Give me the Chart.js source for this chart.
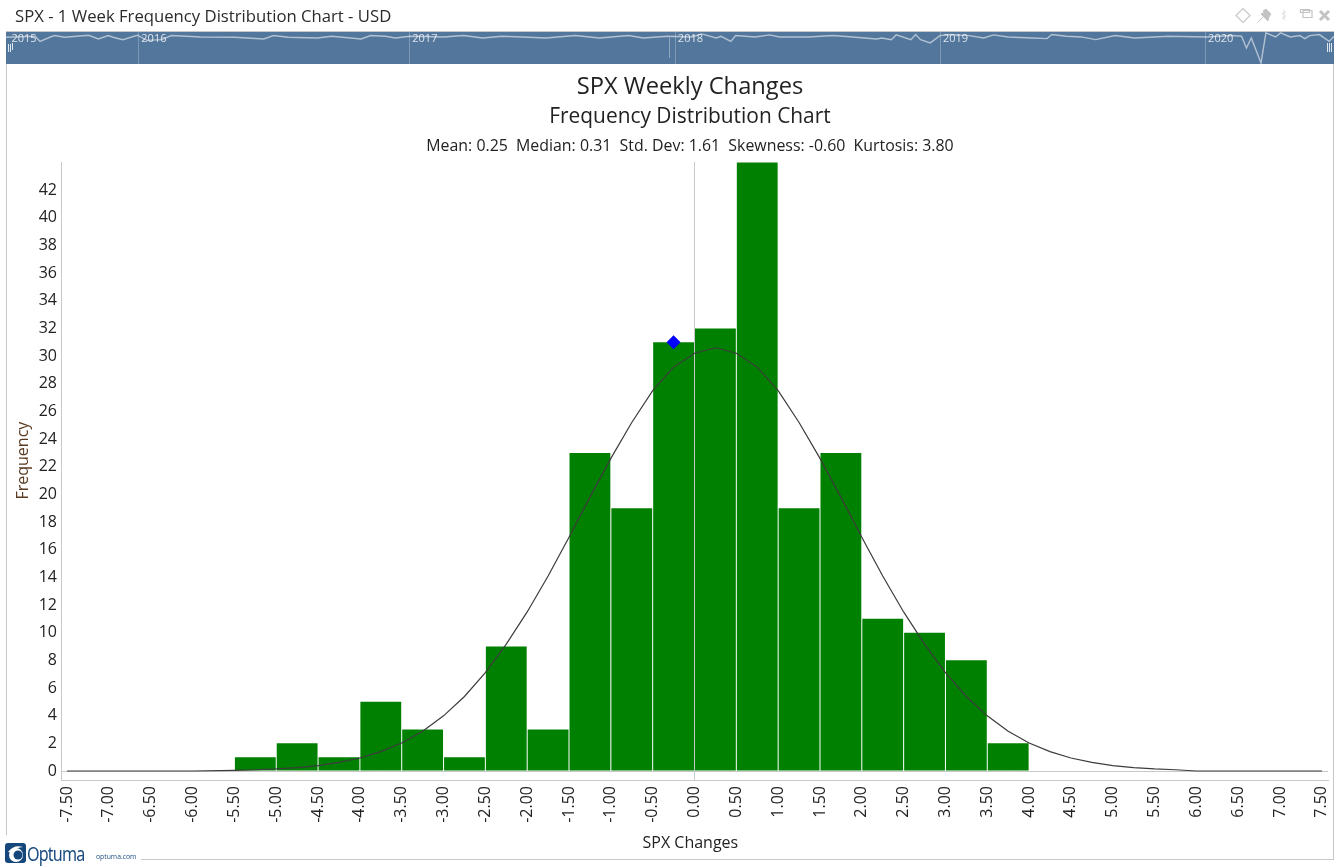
<!DOCTYPE html>
<html><head><meta charset="utf-8">
<script src="https://cdn.jsdelivr.net/npm/chart.js@4/dist/chart.umd.min.js"></script>
<style>
html,body{margin:0;padding:0;background:#fff;width:1340px;height:867px;overflow:hidden;font-family:"Open Sans",sans-serif;color:#222}
.abs{position:absolute;white-space:nowrap}
.c{left:290px;width:800px;text-align:center}
canvas{position:absolute}
</style></head><body>
<canvas id="main" width="1340" height="867" style="left:0;top:0;width:1340px;height:867px"></canvas>
<div class="abs" style="left:15px;top:4px;font-size:16.7px;line-height:24px;color:#2b2b2b">SPX - 1 Week Frequency Distribution Chart - USD</div>
<div class="abs" style="left:6px;top:31px;width:1328px;height:1px;background:#c8c8c8"></div>
<canvas id="mini" width="1328" height="32" style="left:6px;top:32px;width:1328px;height:32px"></canvas>
<div class="abs" style="left:8px;top:44px;width:1px;height:8px;background:#dfe7ef"></div>
<div class="abs" style="left:10px;top:44px;width:1px;height:8px;background:#dfe7ef"></div>
<div class="abs" style="left:12px;top:43px;width:1px;height:7px;background:#dfe7ef"></div>
<div class="abs" style="left:1327px;top:43px;width:1px;height:9px;background:#dfe7ef"></div>
<div class="abs" style="left:1329px;top:43px;width:1px;height:9px;background:#dfe7ef"></div>
<div class="abs" style="left:1331px;top:43px;width:1px;height:9px;background:#dfe7ef"></div>
<div class="abs" style="left:669px;top:38px;width:1px;height:20px;background:rgba(255,255,255,.35)"></div>
<div class="abs" style="left:6px;top:64px;width:1px;height:771px;background:#c8c8c8"></div>
<div class="abs" style="left:1333px;top:64px;width:1px;height:795px;background:#c8c8c8"></div>
<div class="abs" style="left:141px;top:859px;width:1193px;height:1px;background:#c8c8c8"></div>
<div class="abs c" style="top:68px;font-size:23.7px;line-height:34px;color:#222">SPX Weekly Changes</div>
<div class="abs c" style="top:100px;font-size:20.900px;line-height:30px;color:#222">Frequency Distribution Chart</div>
<div class="abs c" style="top:134px;font-size:15.900px;line-height:22px;color:#222">Mean: 0.25&nbsp; Median: 0.31&nbsp; Std. Dev: 1.61&nbsp; Skewness: -0.60&nbsp; Kurtosis: 3.80</div>
<svg class="abs" style="left:1232px;top:5px" width="104" height="20" viewBox="0 0 104 20">
  <path d="M11 3.500l7 7-7 7-7-7z" fill="none" stroke="#cfcfcf" stroke-width="1.5"/>
  <path d="M26 17l6-6M31 6l6 6 2-3-5-5zM29 9l7 7 1-5-4-4z" fill="#c4c4c4" stroke="#c4c4c4"/>
  <path d="M52 5v10M50 9l4-2M50 13l4-2" stroke="#e6e6e6" stroke-width="1.5" fill="none"/>
  <path d="M68.500 7.500h9v-3h-9zM71 12.500h9v-7h-9z" fill="none" stroke="#c4c4c4" stroke-width="1.2"/>
  <path d="M88 6l9 9M97 6l-9 9" stroke="#c4c4c4" stroke-width="3"/>
</svg>
<svg class="abs" style="left:5px;top:843px" width="21" height="20" viewBox="0 0 21 20">
  <rect width="21" height="20" rx="3" fill="#14477c"/>
  <circle cx="11" cy="12" r="7" fill="#fff"/><circle cx="13" cy="12" r="4.500" fill="#14477c"/>
  <path d="M3 9q6-8 15-5-7 0-10 6z" fill="#fff"/>
</svg>
<div class="abs" style="left:27px;top:840px;font-family:'Noto Sans',sans-serif;font-size:19px;line-height:28px;letter-spacing:-1px;color:#1a4c80;transform:scaleX(.85);transform-origin:left">Optuma</div>
<div class="abs" style="left:96px;top:851px;font-size:6.800px;line-height:12px;color:#1a4c80">optuma.com</div>
<script>
// Histogram (bin centres and frequencies)
const binCenters = [-5.25,-4.75,-4.25,-3.75,-3.25,-2.75,-2.25,-1.75,-1.25,-0.75,-0.25,0.25,0.75,1.25,1.75,2.25,2.75,3.25,3.75];
const binCounts  = [1,2,1,5,3,1,9,3,23,19,31,32,44,19,23,11,10,8,2];
// Fitted curve
const curveX = [-7.5,-6,-5.5,-5.25,-5,-4.75,-4.5,-4.25,-4,-3.75,-3.5,-3.25,-3,-2.75,-2.5,-2.25,-2,-1.75,-1.5,-1.25,-1,-0.75,-0.5,-0.25,0,0.25,0.5,0.75,1,1.25,1.5,1.75,2,2.25,2.5,2.75,3,3.25,3.5,3.75,4,4.25,4.5,4.75,5,5.25,5.5,5.75,6,7.5];
const curveY = [0,0,0.05,0.09,0.15,0.25,0.39,0.62,0.94,1.4,2.03,2.88,3.99,5.39,7.11,9.17,11.5,14.1,16.9,19.8,22.6,25.2,27.5,29.2,30.2,30.6,30.2,29.2,27.5,25.2,22.6,19.8,16.9,14.1,11.5,9.17,7.11,5.39,3.99,2.88,2.03,1.4,0.94,0.62,0.39,0.25,0.15,0.09,0,0];
// Latest-week marker
const markerX = [-0.25];
const markerY = [31];
// Tick labels
const xTicks = [-7.5,-7,-6.5,-6,-5.5,-5,-4.5,-4,-3.5,-3,-2.5,-2,-1.5,-1,-0.5,0,0.5,1,1.5,2,2.5,3,3.5,4,4.5,5,5.5,6,6.5,7,7.5];
const yTicks = [0,2,4,6,8,10,12,14,16,18,20,22,24,26,28,30,32,34,36,38,40,42];
// Navigator strip: weekly change trace
const sparkWeeks = [0,6,7,9,10,12,17,19,21,22,24,27,29,32,34,40,47,53,55,58,64,67,73,75,78,80,83,90,94,98,102,106,111,117,122,128,131,136,141,143,146,147,149,150,154,157,159,165,170,174,179,180,182,183,186,187,188,190,192,194,198,201,203,206,211,214,215,218,221,224,228,232,239,247,252,254,255,256,258,259,261,262,264,266,267,268,270,272,273];
const sparkValues = [-0.1,0.5,-2.5,-0.1,0.9,-0.1,1.1,-1.1,0.9,-0.1,-1.5,1.1,-1.9,-1.5,0.9,0.1,-0.1,-1.1,0.9,-0.1,-0.5,0.5,-1.1,0.9,0.5,-0.5,0.5,0.1,0.9,-0.5,0.5,0.1,-0.5,0.9,-0.5,0.9,-0.5,0.5,0.1,1.9,-0.5,0.5,-2.5,0.9,0.1,1.3,0.1,0.1,0.9,0.1,-1.1,-0.5,-1.5,1.3,-1.5,1.5,-1.5,-3.4,0.9,1.5,0.9,-0.5,1.3,0.1,-0.5,-0.9,1.5,0.5,0.1,-1.5,0.9,-0.5,0.5,0.1,0.9,0.5,-6.4,-0.5,-15.2,2.5,0.1,2.5,0.1,0.9,-0.9,0.9,1.5,-2.5,0.5];
const yearLabels = ['2015','2016','2017','2018','2019','2020'];
const yearWeeks  = [0.5,27.2,82.9,137.5,192,246.5];

const FONT = '"Open Sans", sans-serif';
const TEXT = '#222222', RULE = '#c8c8c8';

new Chart(document.getElementById('main'), {
  data: { datasets: [
    { type:'line', order:1, data: markerX.map((x,i)=>({x,y:markerY[i]})), showLine:false,
      pointStyle:'rectRot', pointRadius:7, pointBackgroundColor:'#0000ff', pointBorderColor:'#0000ff', pointBorderWidth:0 },
    { type:'line', order:2, data: curveX.map((x,i)=>({x,y:curveY[i]})), borderColor:'#3c3c3c', borderWidth:1.2, pointRadius:0, tension:0 },
    { type:'bar', order:3, data: binCenters.map((x,i)=>({x,y:binCounts[i]})), backgroundColor:'#008000', borderWidth:0,
      barPercentage:0.976, categoryPercentage:1 }
  ]},
  options: {
    responsive:false, animation:false, devicePixelRatio:1,
    layout:{ padding:{ left:0, right:12, top:162, bottom:0 } },
    plugins:{ legend:{display:false}, title:{display:false}, tooltip:{enabled:false} },
    scales:{
      x:{ type:'linear', min:-7.573, max:7.573, offset:false,
        afterBuildTicks:s=>{ s.ticks = xTicks.map(value=>({value})); },
        afterFit:s=>{ s.height = 87; s.paddingLeft = 0; s.paddingRight = 0; },
        grid:{ offset:false, drawTicks:false, color:c=>c.tick && c.tick.value===0 ? RULE : 'rgba(0,0,0,0)' },
        border:{ display:true, color:RULE },
        ticks:{ autoSkip:false, minRotation:90, maxRotation:90, padding:6, color:TEXT, font:{family:FONT,size:16},
          callback:v=>Number(v).toFixed(2) },
        title:{ display:true, text:'SPX Changes\u00a0\u00a0', color:TEXT, font:{family:FONT,size:16}, padding:{top:0,bottom:14} } },
      y:{ type:'linear', min:-0.65, max:44.03,
        afterBuildTicks:s=>{ s.ticks = yTicks.map(value=>({value})); },
        afterFit:s=>{ s.width = 61; s.paddingTop = 0; s.paddingBottom = 0; },
        grid:{ drawTicks:false, color:c=>c.tick && c.tick.value===0 ? RULE : 'rgba(0,0,0,0)' },
        border:{ display:true, color:RULE },
        ticks:{ padding:4, color:TEXT, font:{family:FONT,size:16} },
        title:{ display:true, text:'\u00a0\u00a0\u00a0\u00a0\u00a0Frequency', color:'#5a3a20', font:{family:FONT,size:16}, padding:{top:14,bottom:0} } }
    }
  }
});

const yearMarks = {
  id:'yearMarks',
  beforeDatasetsDraw(chart){
    const {ctx, scales:{x}, chartArea:a} = chart;
    ctx.save();
    ctx.fillStyle = 'rgba(255,255,255,0.25)';
    yearWeeks.slice(1).forEach(w=>ctx.fillRect(Math.round(x.getPixelForValue(w)), a.top, 1, a.bottom-a.top));
    ctx.fillStyle = 'rgba(255,255,255,0.8)';
    yearLabels.forEach((t,i)=>{
      ctx.font = '11px '+FONT; ctx.textBaseline='middle'; ctx.textAlign='left';
      ctx.fillText(t, x.getPixelForValue(yearWeeks[i])+3, 6.5);
    });
    ctx.restore();
  }
};
new Chart(document.getElementById('mini'), {
  type:'line',
  data:{ datasets:[{ data: sparkWeeks.map((x,i)=>({x,y:sparkValues[i]})), borderColor:'rgba(255,255,255,0.55)', borderWidth:1.4, pointRadius:0, tension:0 }] },
  options:{ responsive:false, animation:false, devicePixelRatio:1,
    layout:{padding:0},
    plugins:{ legend:{display:false}, tooltip:{enabled:false} },
    scales:{ x:{type:'linear',min:0,max:273,display:false}, y:{type:'linear',min:-15.8,max:3,display:false} }
  },
  plugins:[{ id:'stripBg', beforeDraw(c){ const g=c.ctx; g.save(); g.fillStyle='#53779c'; g.fillRect(0,0,c.width,c.height); g.restore(); } }, yearMarks]
});
</script>
</body></html>
